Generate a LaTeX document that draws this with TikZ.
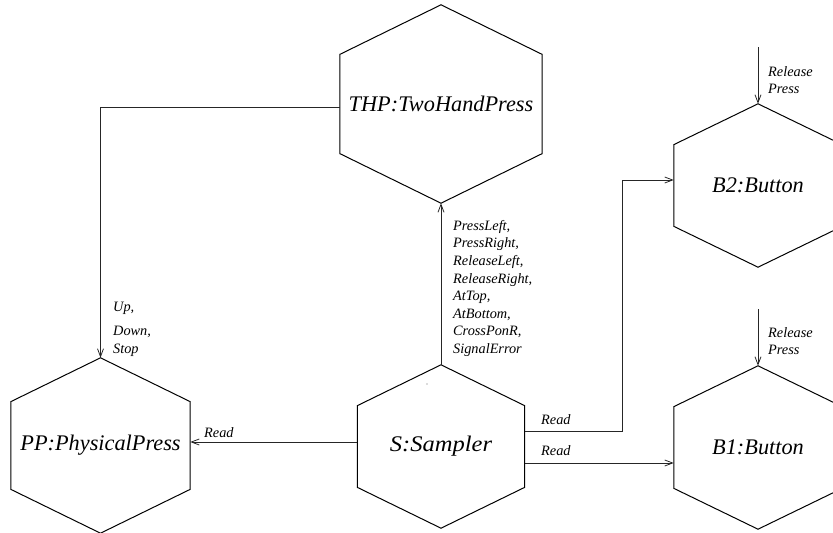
\documentclass[tikz,border=0pt]{standalone}
\usepackage{fontspec}
\setmainfont{Liberation Serif}
\usetikzlibrary{arrows.meta,calc}
\begin{document}
\begin{tikzpicture}[x=1pt,y=-1pt,
  hexbox/.style={inner sep=0pt, font=\fontsize{22.3}{26}\selectfont\itshape},
  lbl/.style={inner sep=0pt, anchor=north west, font=\fontsize{14.3}{17.6}\selectfont\itshape, align=left},
  conn/.style={draw=black!85, line width=0.8pt, -{Straight Barb[length=8pt,width=6pt]}},
  hexline/.style={draw=black, line width=1pt, line join=miter}]
\useasboundingbox (0,0) rectangle (833,533);
\clip (0,0) rectangle (833,533);
% hexagonal objects
\node[hexbox, minimum width=202pt, minimum height=198pt] (thp) at (441,104) {THP:TwoHandPress};
\node[hexbox, minimum width=179pt, minimum height=175pt] (pp) at (100.5,445.5) {PP:PhysicalPress};
\node[hexbox, minimum width=167pt, minimum height=163pt] (s) at (441,446.5) {\scalebox{1.1}[1]{S:Sampler}};
\node[hexbox, minimum width=168pt, minimum height=163pt] (b2) at (758,185.5) {B2:Button};
\node[hexbox, minimum width=168pt, minimum height=163pt] (b1) at (758,447.5) {B1:Button};
\foreach \n in {thp,pp,s,b1,b2}{
  \draw[hexline] (\n.north) -- ($(\n.north east)!.25!(\n.south east)$)
    -- ($(\n.north east)!.75!(\n.south east)$) -- (\n.south)
    -- ($(\n.north west)!.75!(\n.south west)$)
    -- ($(\n.north west)!.25!(\n.south west)$) -- cycle;
}
% free ends of the incoming button events
\coordinate (b2in) at (758,47);
\coordinate (b1in) at (758,309);
% connectors
\draw[conn] ([yshift=-3pt]thp.west) -| (pp.north);
\draw[conn] (s.north) -- (thp.south);
\draw[conn] ([yshift=4.5pt]s.west) -- ([yshift=4.5pt]s.west -| pp.east);
\draw[conn] ([yshift=15.5pt]s.east) -- ++(98,0) |- ([yshift=5.5pt]b2.west);
\draw[conn] ([yshift=-16.5pt]s.east) -- ([yshift=-16.5pt]s.east -| b1.west);
\draw[conn] (b2in) -- (b2.north);
\draw[conn] (b1in) -- (b1.north);
% labels
\node[lbl] (lup) at (113,302) {Up,};
\node[lbl] (ldown) at (113,326) {Down,\\Stop};
\node[lbl] (lsig) at (453,220) {PressLeft,\\PressRight,\\ReleaseLeft,\\ReleaseRight,\\AtTop,\\AtBottom,\\CrossPonR,\\SignalError};
\node[lbl, anchor=west] (lrpp) at (204,433) {Read};
\node[lbl, anchor=west] (lrb2) at (541,420) {Read};
\node[lbl, anchor=west] (lrb1) at (541,451) {Read};
\node[lbl] (lb2) at (768,66) {Release\\Press};
\node[lbl] (lb1) at (768,327) {Release\\Press};
\fill[black!60] (427,384) circle (0.6pt);
\end{tikzpicture}
\end{document}
